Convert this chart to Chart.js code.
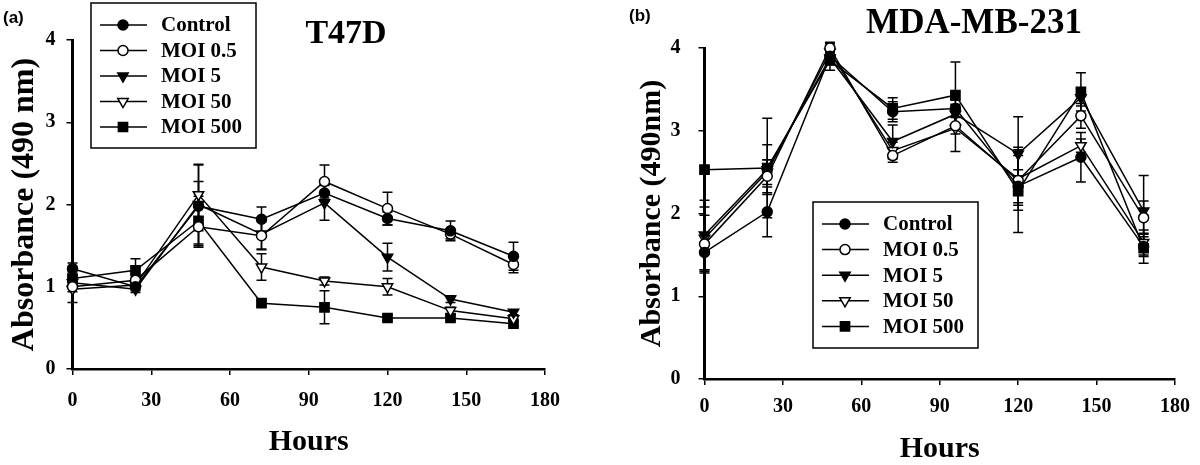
<!DOCTYPE html>
<html>
<head>
<meta charset="utf-8">
<script src="https://cdn.jsdelivr.net/npm/chart.js@4.4.1/dist/chart.umd.min.js"></script>
<style>
  body { margin: 0; background: #fff; }
  .panel { position: absolute; top: 0; width: 600px; height: 465px; }
</style>
</head>
<body>
<div class="panel" style="left:0"><canvas id="chartA" width="600" height="465"></canvas></div>
<div class="panel" style="left:600px"><canvas id="chartB" width="600" height="465"></canvas></div>
<script>
var hours = [0, 24, 48, 72, 96, 120, 144, 168]
var series = ['Control', 'MOI 0.5', 'MOI 5', 'MOI 50', 'MOI 500']
var xTicks = [0, 30, 60, 90, 120, 150, 180]
var yTicks = [0, 1, 2, 3, 4]

// T47D absorbance (mean) and error
var t47dControl = [1.22, 1.00, 1.98, 1.82, 2.14, 1.83, 1.68, 1.37]
var t47dMoi05   = [1.00, 1.08, 1.73, 1.62, 2.28, 1.95, 1.64, 1.27]
var t47dMoi5    = [1.05, 0.97, 2.00, 1.64, 2.02, 1.36, 0.85, 0.69]
var t47dMoi50   = [0.97, 1.02, 2.12, 1.24, 1.07, 1.00, 0.71, 0.61]
var t47dMoi500  = [1.10, 1.20, 1.80, 0.80, 0.75, 0.62, 0.62, 0.55]
var t47dErrControl = [0.07, 0.05, 0.30, 0.15, 0.10, 0.08, 0.12, 0.17]
var t47dErrMoi05   = [0.06, 0.05, 0.25, 0.17, 0.20, 0.20, 0.06, 0.10]
var t47dErrMoi5    = [0.05, 0.04, 0.48, 0.18, 0.21, 0.17, 0.04, 0.03]
var t47dErrMoi50   = [0.16, 0.05, 0.37, 0.16, 0.05, 0.10, 0.04, 0.03]
var t47dErrMoi500  = [0.08, 0.14, 0.30, 0.03, 0.20, 0.03, 0.03, 0.03]

// MDA-MB-231 absorbance (mean) and error
var mdaControl = [1.53, 2.02, 3.90, 3.23, 3.27, 2.33, 2.68, 1.60]
var mdaMoi05   = [1.63, 2.45, 4.00, 2.70, 3.06, 2.40, 3.18, 1.95]
var mdaMoi5    = [1.74, 2.53, 3.88, 2.87, 3.20, 2.72, 3.40, 2.03]
var mdaMoi50   = [1.70, 2.50, 3.95, 2.76, 3.03, 2.42, 2.82, 1.65]
var mdaMoi500  = [2.53, 2.55, 3.85, 3.27, 3.43, 2.27, 3.47, 1.58]
var mdaErrControl = [0.23, 0.30, 0.10, 0.12, 0.10, 0.20, 0.30, 0.12]
var mdaErrMoi05   = [0.35, 0.20, 0.05, 0.08, 0.10, 0.30, 0.15, 0.20]
var mdaErrMoi5    = [0.42, 0.30, 0.08, 0.20, 0.12, 0.45, 0.10, 0.43]
var mdaErrMoi50   = [0.38, 0.15, 0.12, 0.10, 0.28, 0.38, 0.08, 0.15]
var mdaErrMoi500  = [0.03, 0.60, 0.12, 0.13, 0.40, 0.50, 0.23, 0.18]

var serif = '"Liberation Serif", "Times New Roman", serif'
var markers = [
  {pointStyle: 'circle', fill: '#000', rotation: 0, radius: 5},
  {pointStyle: 'circle', fill: '#fff', rotation: 0, radius: 5},
  {pointStyle: 'triangle', fill: '#000', rotation: 180, radius: 6},
  {pointStyle: 'triangle', fill: '#fff', rotation: 180, radius: 6},
  {pointStyle: 'rect', fill: '#000', rotation: 0, radius: 6.5}
]

function points(values) {
  return hours.map(function(h, i){ return {x: h, y: values[i]} })
}

var errorBars = {
  id: 'errorBars',
  beforeDatasetsDraw: function(chart) {
    var ctx = chart.ctx, xs = chart.scales.x, ys = chart.scales.y
    ctx.save()
    ctx.strokeStyle = '#000'
    ctx.lineWidth = 1.5
    chart.data.datasets.forEach(function(ds){
      ds.data.forEach(function(p, i){
        var e = ds.errors[i]
        var x = xs.getPixelForValue(p.x)
        var y1 = ys.getPixelForValue(p.y + e)
        var y2 = ys.getPixelForValue(p.y - e)
        ctx.beginPath()
        ctx.moveTo(x, y1); ctx.lineTo(x, y2)
        ctx.moveTo(x - 5, y1); ctx.lineTo(x + 5, y1)
        ctx.moveTo(x - 5, y2); ctx.lineTo(x + 5, y2)
        ctx.stroke()
      })
    })
    ctx.restore()
  }
}

var boxLegend = {
  id: 'boxLegend',
  afterDraw: function(chart, args, opts) {
    var ctx = chart.ctx
    ctx.save()
    ctx.fillStyle = '#fff'
    ctx.fillRect(opts.x, opts.y, opts.w, opts.h)
    ctx.strokeStyle = '#000'
    ctx.lineWidth = 1.5
    ctx.strokeRect(opts.x, opts.y, opts.w, opts.h)
    chart.data.datasets.forEach(function(ds, i){
      var y = opts.y + 22 + i * opts.step
      ctx.strokeStyle = '#000'
      ctx.lineWidth = 1.5
      ctx.beginPath()
      ctx.moveTo(opts.x + 9, y); ctx.lineTo(opts.x + 56, y)
      ctx.stroke()
      ctx.fillStyle = ds.pointBackgroundColor
      Chart.helpers.drawPoint(ctx, {
        pointStyle: ds.pointStyle, rotation: ds.pointRotation,
        radius: ds.pointRadius, borderWidth: 1.5
      }, opts.x + 32, y)
      ctx.fillStyle = '#000'
      ctx.font = 'bold 21px ' + serif
      ctx.textBaseline = 'middle'
      ctx.textAlign = 'left'
      ctx.fillText(ds.label, opts.x + 70, y + 1)
    })
    ctx.restore()
  }
}

var panelTitle = {
  id: 'panelTitle',
  afterDraw: function(chart, args, opts) {
    var ctx = chart.ctx
    ctx.save()
    ctx.fillStyle = '#000'
    ctx.textBaseline = 'alphabetic'
    ctx.textAlign = 'center'
    ctx.font = 'bold ' + opts.size + 'px ' + serif
    ctx.fillText(opts.text, opts.cx, opts.baseline)
    ctx.textAlign = 'left'
    ctx.font = 'bold 17px "Liberation Sans", Arial, sans-serif'
    ctx.fillText(opts.letter, opts.lx, opts.ly)
    ctx.restore()
  }
}

function makePanel(id, valueSets, errorSets, p) {
  var datasets = series.map(function(name, i){
    var m = markers[i]
    return {
      label: name,
      data: points(valueSets[i]),
      errors: errorSets[i],
      borderColor: '#000',
      borderWidth: 1.5,
      pointStyle: m.pointStyle,
      pointRotation: m.rotation,
      pointRadius: m.radius,
      pointBackgroundColor: m.fill,
      pointBorderColor: '#000',
      pointBorderWidth: 1.5,
      tension: 0,
      clip: false
    }
  })
  var axisFont = {family: serif, weight: 'bold', size: 20}
  return new Chart(document.getElementById(id), {
    type: 'line',
    data: {datasets: datasets},
    plugins: [errorBars, boxLegend, panelTitle],
    options: {
      responsive: false,
      animation: false,
      events: [],
      layout: {padding: {left: 0, top: p.top, right: p.right, bottom: 0}},
      scales: {
        x: {
          type: 'linear', min: xTicks[0], max: xTicks[xTicks.length - 1],
          afterBuildTicks: function(s){ s.ticks = xTicks.map(function(v){ return {value: v} }) },
          afterFit: function(s){ s.height = p.xHeight },
          grid: {drawOnChartArea: false, drawTicks: true, tickLength: 6, color: '#000', lineWidth: 1.5},
          border: {display: true, color: '#000', width: 2.5},
          ticks: {color: '#000', font: axisFont, padding: p.xPad, maxRotation: 0},
          title: {display: true, text: 'Hours', color: '#000',
                  font: {family: serif, weight: 'bold', size: 30, lineHeight: 1},
                  padding: {top: 0, bottom: p.xTitlePad}}
        },
        y: {
          min: yTicks[0], max: yTicks[yTicks.length - 1],
          afterBuildTicks: function(s){ s.ticks = yTicks.map(function(v){ return {value: v} }) },
          afterFit: function(s){ s.width = p.yWidth },
          grid: {drawOnChartArea: false, drawTicks: true, tickLength: 6, color: '#000', lineWidth: 1.5},
          border: {display: true, color: '#000', width: 3},
          ticks: {color: '#000', font: axisFont, padding: p.yPad},
          title: {display: true, text: p.yTitle, color: '#000',
                  font: {family: serif, weight: 'bold', size: p.yTitleSize, lineHeight: 1},
                  padding: {top: p.yTitlePad, bottom: 0}}
        }
      },
      plugins: {
        legend: {display: false},
        tooltip: {enabled: false},
        boxLegend: p.legend,
        panelTitle: p.title
      }
    }
  })
}

makePanel('chartA',
  [t47dControl, t47dMoi05, t47dMoi5, t47dMoi50, t47dMoi500],
  [t47dErrControl, t47dErrMoi05, t47dErrMoi5, t47dErrMoi50, t47dErrMoi500],
  {top: 40, right: 55, xHeight: 96, yWidth: 72.5, xPad: 14, yPad: 11, xTitlePad: 8,
   yTitle: 'Absorbance (490 nm)', yTitleSize: 32, yTitlePad: 9,
   legend: {x: 91, y: 3, w: 165, h: 145, step: 25.5},
   title: {text: 'T47D', size: 34, cx: 346, baseline: 43, letter: '(a)', lx: 3, ly: 23}})

makePanel('chartB',
  [mdaControl, mdaMoi05, mdaMoi5, mdaMoi50, mdaMoi500],
  [mdaErrControl, mdaErrMoi05, mdaErrMoi5, mdaErrMoi50, mdaErrMoi500],
  {top: 48, right: 21, xHeight: 86, yWidth: 104.5, xPad: 10, yPad: 18, xTitlePad: 1,
   yTitle: 'Absorbance (490nm)', yTitleSize: 30, yTitlePad: 37,
   legend: {x: 213, y: 202, w: 165, h: 146, step: 25.6},
   title: {text: 'MDA-MB-231', size: 35, cx: 374, baseline: 33, letter: '(b)', lx: 29, ly: 21}})
</script>
</body>
</html>
